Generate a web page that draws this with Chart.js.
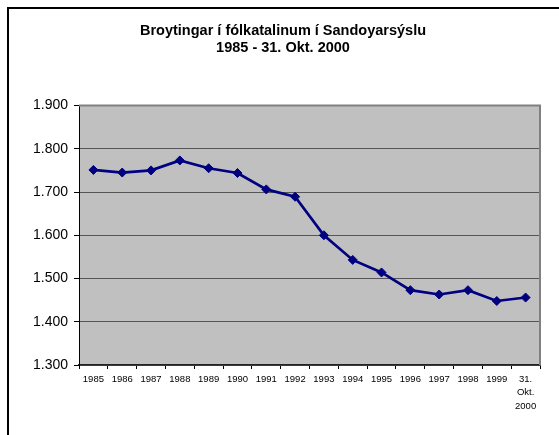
<!DOCTYPE html>
<html>
<head>
<meta charset="utf-8">
<script src="https://cdn.jsdelivr.net/npm/chart.js@4"></script>
<style>
  html, body { margin: 0; padding: 0; background: #fff; }
  #wrap { position: relative; width: 559px; height: 435px; overflow: hidden; }
  #frame {
    position: absolute; left: 7px; top: 7px; width: 600px; height: 500px;
    border-left: 2px solid #000; border-top: 2px solid #000;
  }
  canvas { position: absolute; left: 0; top: 0; }
</style>
</head>
<body>
<div id="wrap">
  <div id="frame"></div>
  <canvas id="chart" width="559" height="435"></canvas>
</div>
<script>
// Fólkatal í Sandoyarsýslu 1985 - 31. okt. 2000
const years = ["1985", "1986", "1987", "1988", "1989", "1990", "1991", "1992",
  "1993", "1994", "1995", "1996", "1997", "1998", "1999", ["31.", "Okt.", "2000"]];
const population = [1751, 1745, 1750, 1773, 1755, 1744, 1706, 1689,
  1600, 1543, 1514, 1473, 1463, 1473, 1448, 1456];
const yTicks = { min: 1300, max: 1900, step: 100 };

const FONT = "Arial, 'Liberation Sans', sans-serif";

// 1900 -> "1.900"
function fmtThousand(v) {
  const s = String(Math.round(v));
  return s.replace(/\B(?=(\d{3})+(?!\d))/g, ".");
}

// grey plot area + grey top/right edge, like the old excel chart
const plotBox = {
  id: "plotBox",
  beforeDraw(chart) {
    const { ctx, chartArea: a } = chart;
    ctx.save();
    ctx.fillStyle = "#c0c0c0";
    ctx.fillRect(a.left, a.top, a.right - a.left, a.bottom - a.top);
    ctx.restore();
  },
  beforeDatasetsDraw(chart) {
    const { ctx, chartArea: a } = chart;
    ctx.save();
    ctx.strokeStyle = "#808080";
    ctx.lineWidth = 2;
    ctx.beginPath();
    ctx.moveTo(a.left, a.top);
    ctx.lineTo(a.right, a.top);
    ctx.lineTo(a.right, a.bottom);
    ctx.stroke();
    ctx.restore();
  }
};

new Chart(document.getElementById("chart"), {
  type: "line",
  data: {
    labels: years,
    datasets: [{
      data: population,
      borderColor: "#000080",
      backgroundColor: "#000080",
      borderWidth: 2.7,
      tension: 0,
      pointStyle: "rectRot",
      pointRadius: 4.5,
      pointBorderWidth: 1,
      pointBackgroundColor: "#000080",
      pointBorderColor: "#000080"
    }]
  },
  options: {
    responsive: false,
    animation: false,
    layout: { padding: { top: 14, right: 19, bottom: 0, left: 26 } },
    plugins: {
      legend: { display: false },
      tooltip: { enabled: false },
      title: {
        display: true,
        text: ["Broytingar í fólkatalinum í Sandoyarsýslu", "1985 - 31. Okt. 2000"],
        color: "#000",
        font: { family: FONT, size: 14.5, weight: "bold", lineHeight: 1.2 },
        padding: { top: 8.3, bottom: 48.4 }
      }
    },
    scales: {
      x: {
        offset: true,
        afterFit(scale) { scale.height = 70; },
        grid: {
          offset: true,
          drawOnChartArea: false,
          drawTicks: true,
          tickLength: 4,
          tickColor: "#000"
        },
        border: { display: true, color: "#222", width: 1.5 },
        ticks: {
          color: "#000",
          maxRotation: 0,
          autoSkip: false,
          padding: 3,
          font: { family: FONT, size: 9.5, lineHeight: 1.45 }
        }
      },
      y: {
        min: yTicks.min,
        max: yTicks.max,
        afterFit(scale) { scale.width = 53; },
        grid: {
          color: "#555",
          lineWidth: 1,
          drawTicks: true,
          tickLength: 5,
          tickColor: "#000"
        },
        border: { display: true, color: "#000", width: 1 },
        ticks: {
          stepSize: yTicks.step,
          color: "#000",
          padding: 6,
          font: { family: FONT, size: 14 },
          callback: v => fmtThousand(v)
        }
      }
    }
  },
  plugins: [plotBox]
});
</script>
</body>
</html>
